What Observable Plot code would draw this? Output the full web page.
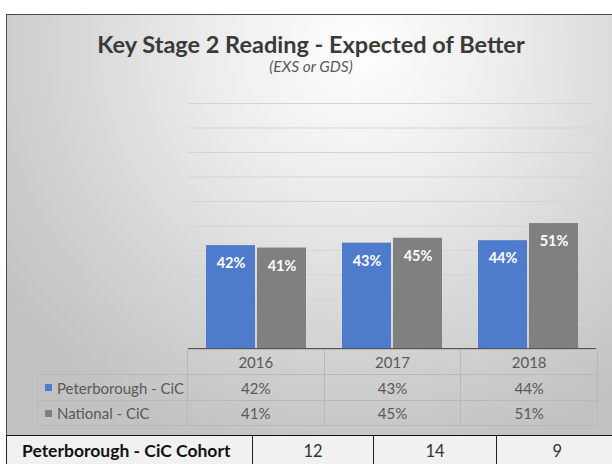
<!DOCTYPE html>
<html><head><meta charset="utf-8">
<script src="https://cdn.jsdelivr.net/npm/d3@7"></script>
<script src="https://cdn.jsdelivr.net/npm/@observablehq/plot@0.6"></script>
<style>
body{margin:0;background:#fff;}
#wrap{position:relative;width:612px;height:464px;overflow:hidden;font-family:Lato,"Open Sans",sans-serif;}
#frame{position:absolute;left:6px;top:14px;width:640px;height:422px;box-sizing:border-box;border:1px solid #4a4a4a;
 background:radial-gradient(ellipse 68% 100% at 55% 8%, #ffffff 0%, #ececec 35%, #d4d4d4 70%, #c2c2c2 100%);}
#title{position:absolute;left:0;width:622px;top:29.5px;text-align:center;font-weight:bold;font-size:23.5px;line-height:1.2;color:#3a3a3a;white-space:nowrap;}
#subtitle{position:absolute;left:0;width:622px;top:57px;text-align:center;font-style:italic;font-size:15.5px;line-height:1.2;color:#595959;white-space:nowrap;}
#chart{position:absolute;left:0;top:0;}
.cell{position:absolute;box-sizing:border-box;border:1px solid #b8b8b8;color:#595959;font-size:15px;display:flex;align-items:center;justify-content:center;white-space:nowrap;}
.cell.left{justify-content:flex-start;padding-left:7px;}
.key{display:inline-block;width:7px;height:7px;margin-right:5px;}
#cohort{position:absolute;left:6px;top:435px;width:640px;height:40px;background:#f1f1f1;border-top:1.5px solid #111;border-left:1px solid #333;box-sizing:border-box;}
.ccell{position:absolute;box-sizing:border-box;top:435px;height:40px;border-top:1.5px solid #111;border-left:1px solid #222;font-size:16.5px;color:#333;display:flex;align-items:flex-start;padding-top:5px;justify-content:center;white-space:nowrap;}
.ccell.lab{justify-content:flex-start;padding-left:15px;font-weight:bold;color:#111;font-size:17.5px;padding-top:4px;}
</style></head>
<body><div id="wrap">
<div id="frame"></div>
<div id="title">Key Stage 2 Reading - Expected of Better</div>
<div id="subtitle">(EXS or GDS)</div>
<div id="chart"></div>
</div>
<script>
const years = ["2016", "2017", "2018"];
const seriesNames = ["Peterborough - CiC", "National - CiC"];
const peterborough = [0.42, 0.43, 0.44];
const national = [0.41, 0.45, 0.51];
const cohortLabel = "Peterborough - CiC Cohort";
const cohort = [12, 14, 9];
const gridTicks = [0.1, 0.2, 0.3, 0.4, 0.5, 0.6, 0.7, 0.8, 0.9, 1.0];
const colors = ["#4f7bcc", "#808080"];

const seriesValues = [peterborough, national];
const rows = [];
years.forEach((yr, i) => seriesNames.forEach((s, j) => rows.push({year: yr, series: s, value: seriesValues[j][i]})));
const pct = d3.format(".0%");

const W = 612, ML = 187, MR = 15;
const plot = Plot.plot({
  width: W, height: 350,
  marginLeft: ML, marginRight: MR, marginTop: 103, marginBottom: 2,
  style: {background: "transparent", overflow: "visible"},
  fx: {domain: years, padding: 0, axis: null},
  x: {domain: seriesNames, paddingInner: 0.0385, paddingOuter: 0.327, axis: null},
  y: {domain: [0, 1], axis: null},
  color: {domain: seriesNames, range: colors},
  marks: [
    Plot.ruleY(gridTicks, {stroke: "#d4d4d4", strokeWidth: 1.2}),
    Plot.barY(rows, {fx: "year", x: "series", y: "value", fill: "series"}),
    Plot.ruleY([0], {stroke: "#555", strokeWidth: 1.2}),
    Plot.text(rows, {fx: "year", x: "series", y: "value", text: d => pct(d.value), fill: "white", fontWeight: "bold", fontSize: 14.5, dy: 18, fontFamily: "Lato, sans-serif"})
  ]
});
document.getElementById("chart").appendChild(plot);

// Data table below the axis, columns aligned with the facet bands
const wrap = document.getElementById("wrap");
const step = (W - ML - MR) / years.length;
const rowTop = [349, 374, 400], rowH = [25, 26, 25];
function cell(x, y, w, h, html, cls) {
  const d = document.createElement("div");
  d.className = "cell" + (cls ? " " + cls : "");
  d.style.left = x + "px"; d.style.top = y + "px"; d.style.width = (w + 1) + "px"; d.style.height = (h + 1) + "px";
  d.innerHTML = html; wrap.appendChild(d); return d;
}
years.forEach((yr, i) => cell(ML + i * step, rowTop[0], step, rowH[0], yr));
seriesNames.forEach((s, j) => {
  cell(37, rowTop[j + 1], ML - 37, rowH[j + 1], `<span class="key" style="background:${colors[j]}"></span>${s}`, "left");
  years.forEach((yr, i) => cell(ML + i * step, rowTop[j + 1], step, rowH[j + 1], pct(seriesValues[j][i])));
});
// separate cohort table
const bg = document.createElement("div"); bg.id = "cohort"; wrap.appendChild(bg);
const cEdges = [6, 251.7, 373.3, 495.7, 618];
const cTexts = [cohortLabel, ...cohort.map(String)];
cTexts.forEach((t, i) => {
  const d = document.createElement("div");
  d.className = "ccell" + (i === 0 ? " lab" : "");
  d.style.left = cEdges[i] + "px"; d.style.width = (cEdges[i + 1] - cEdges[i]) + "px";
  d.textContent = t; wrap.appendChild(d);
});
</script>
</body></html>
